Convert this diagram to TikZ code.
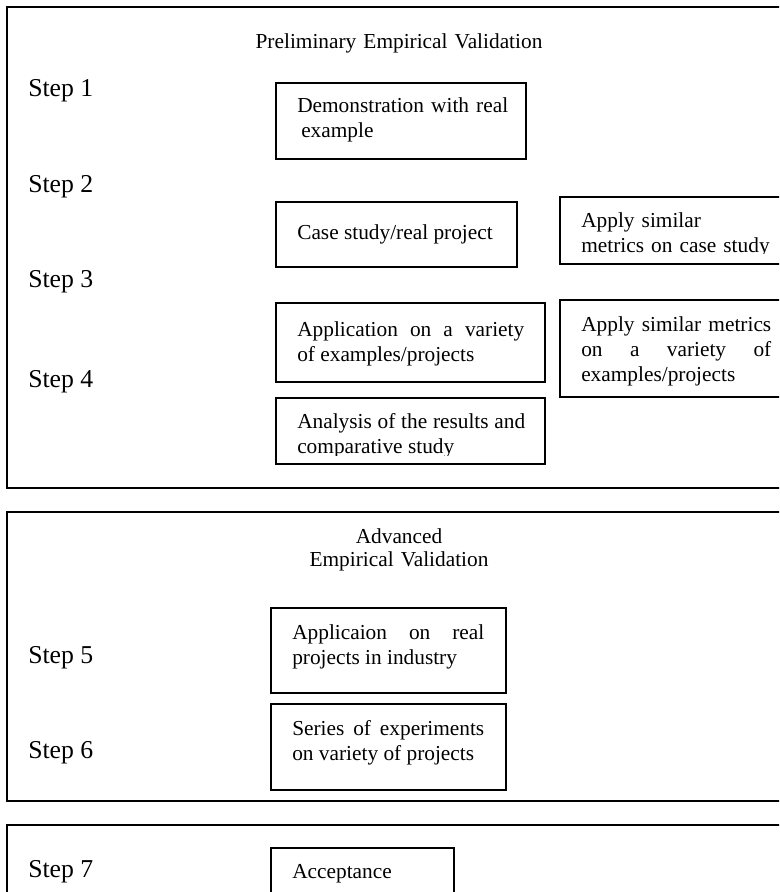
\documentclass[tikz,border=0pt]{standalone}
\usepackage{fontspec}
\setmainfont{Liberation Serif}
\usetikzlibrary{fit}
\begin{document}
\begin{tikzpicture}[x=0.75pt,y=-0.75pt,
  panel/.style={draw=black, line width=0.9pt, inner sep=0pt},
  tbox/.style={draw=black, line width=1.4pt, inner sep=0pt},
  txt/.style={inner sep=0pt, anchor=base west, font=\fontsize{16}{18.75}\selectfont, align=justify},
  steplabel/.style={inner sep=0pt, anchor=base west, font=\fontsize{19.3}{23}\selectfont},
  ttl/.style={inner sep=0pt, anchor=base, font=\fontsize{16}{17.25}\selectfont, align=center, text width=225pt}]
\useasboundingbox (0,0) rectangle (779,892);
\clip (0,0) rectangle (779,892);
\fill[white] (0,0) rectangle (779,892);

% panels
\node[panel, fit={(7,7)(800,488)}] (p1) {};
\node[panel, fit={(7,512)(800,801)}] (p2) {};
\node[panel, fit={(7,825)(800,930)}] (p3) {};

% titles
\node[ttl] (ttl1) at (399,49) {Preliminary Empirical Validation};
\node[ttl] (ttl2) at (399,543) {Advanced\\Empirical Validation};

% step labels
\node[steplabel] (s1) at (28,96) {Step 1};
\node[steplabel] (s2) at (28,192) {Step 2};
\node[steplabel] (s3) at (28,287) {Step 3};
\node[steplabel] (s4) at (28,387) {Step 4};
\node[steplabel] (s5) at (28,663) {Step 5};
\node[steplabel] (s6) at (28,758) {Step 6};
\node[steplabel] (s7) at (28,877) {Step 7};

% boxes
\node[tbox, fit={(276,83)(526,159)}] (b1) {};
\node[tbox, fit={(276,202)(517,267)}] (b2) {};
\node[tbox, fit={(560,197)(800,264)}] (b3) {};
\node[tbox, fit={(276,303)(545,382)}] (b4) {};
\node[tbox, fit={(560,300)(800,397)}] (b5) {};
\node[tbox, fit={(276,398)(545,464)}] (b6) {};
\node[tbox, fit={(271,608)(506,693)}] (b7) {};
\node[tbox, fit={(271,704)(506,790)}] (b8) {};
\node[tbox, fit={(271,848)(454,930)}] (b9) {};

% box texts
\node[txt, text width=170pt, align=left] (t1) at (297,113) {Demonstration with real\\\hspace*{3pt}example};
\node[txt] (t2) at (297,239) {Case study/real project};
\begin{scope}
  \clip (561,198) rectangle (779,253);
  \node[txt, text width=142.5pt, align=left] (t3) at (581,227) {Apply similar\\metrics on case study};
\end{scope}
\node[txt, text width=170.25pt] (t4) at (297,336) {Application on a variety\linebreak of examples/projects};
\node[txt, text width=142.5pt] (t5) at (581,331) {Apply similar metrics\linebreak on a variety of\linebreak examples/projects};
\begin{scope}
  \clip (277,399) rectangle (544,455);
  \node[txt, text width=171pt] (t6) at (297,428) {Analysis of the results and\linebreak comparative study};
\end{scope}
\node[txt, text width=144pt] (t7) at (292,639) {Applicaion on real\linebreak projects in industry};
\node[txt, text width=144pt] (t8) at (292,735) {Series of experiments\linebreak on variety of projects};
\node[txt] (t9) at (292,878) {Acceptance};
\end{tikzpicture}
\end{document}
